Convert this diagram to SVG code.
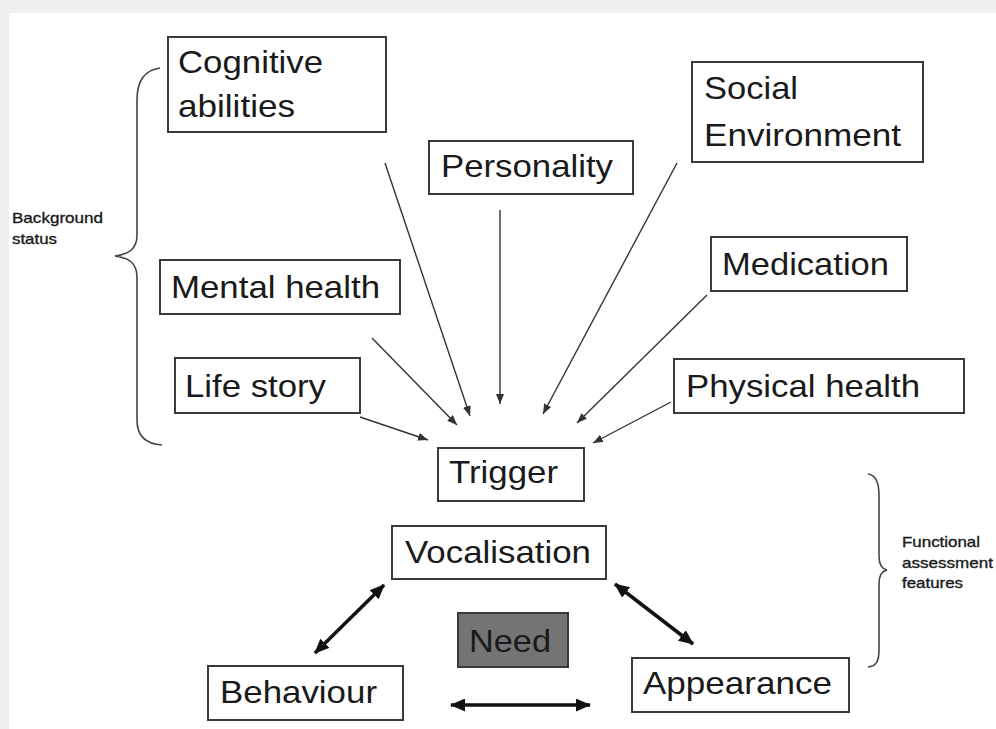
<svg xmlns="http://www.w3.org/2000/svg" width="996" height="729" viewBox="0 0 996 729">
<defs>
<style>
.box{fill:#fff;stroke:#3a3a3a;stroke-width:2}
.need{fill:#747474;stroke:#3a3a3a;stroke-width:2}
.t{font-family:"Liberation Sans",Arial,sans-serif;font-size:32px;fill:#1a1a1a}
.s{font-family:"Liberation Sans",Arial,sans-serif;font-size:15px;fill:#1a1a1a;stroke:#1a1a1a;stroke-width:0.35}
.thin{stroke:#333;stroke-width:1.4;fill:none}
.thick{stroke:#111;stroke-width:3.5;fill:none}
.brace{stroke:#444;stroke-width:1.6;fill:none}
</style>
<marker id="ah" viewBox="0 0 10 8" refX="10" refY="4" markerWidth="10" markerHeight="8" markerUnits="userSpaceOnUse" orient="auto">
<path d="M0,0 L10,4 L0,8 Z" fill="#333"/>
</marker>
<marker id="dh" viewBox="0 0 15 13" refX="14" refY="6.5" markerWidth="15" markerHeight="13" markerUnits="userSpaceOnUse" orient="auto-start-reverse">
<path d="M0,0 L15,6.5 L0,13 Z" fill="#111"/>
</marker>
</defs>
<rect x="0" y="0" width="996" height="729" fill="#f0f0f0"/>
<rect x="9" y="13" width="987" height="716" fill="#fff"/>

<g id="background-brace">
<path class="brace" d="M160,68 C145,70 137,80 137,100 L137,235 C137,249 129,254 115,256 C129,258 137,263 137,277 L137,420 C137,436 146,444 162,445"/>
<text class="s" x="12" y="223" textLength="91" lengthAdjust="spacingAndGlyphs">Background</text>
<text class="s" x="12" y="244" textLength="45" lengthAdjust="spacingAndGlyphs">status</text>
</g>
<g id="functional-brace">
<path class="brace" d="M868,474 C876,475 879,482 879,495 L879,556 C879,565 882,569 887,570 C882,571 879,575 879,584 L879,650 C879,662 876,666 868,667"/>
<text class="s" x="902" y="547" textLength="78" lengthAdjust="spacingAndGlyphs">Functional</text>
<text class="s" x="902" y="568" textLength="91" lengthAdjust="spacingAndGlyphs">assessment</text>
<text class="s" x="902" y="588" textLength="61" lengthAdjust="spacingAndGlyphs">features</text>
</g>

<g id="connectors">
<line class="thin" x1="385" y1="163" x2="470" y2="416" marker-end="url(#ah)"/>
<line class="thin" x1="500" y1="210" x2="500" y2="404" marker-end="url(#ah)"/>
<line class="thin" x1="677" y1="163" x2="543" y2="414" marker-end="url(#ah)"/>
<line class="thin" x1="707" y1="295" x2="577" y2="423" marker-end="url(#ah)"/>
<line class="thin" x1="671" y1="402" x2="593" y2="443" marker-end="url(#ah)"/>
<line class="thin" x1="372" y1="338" x2="457" y2="425" marker-end="url(#ah)"/>
<line class="thin" x1="360" y1="417" x2="428" y2="440" marker-end="url(#ah)"/>
<line class="thick" x1="384" y1="585" x2="315" y2="653" marker-start="url(#dh)" marker-end="url(#dh)"/>
<line class="thick" x1="615" y1="584" x2="693" y2="644" marker-start="url(#dh)" marker-end="url(#dh)"/>
<line class="thick" x1="451" y1="705" x2="590" y2="705" marker-start="url(#dh)" marker-end="url(#dh)"/>
</g>

<g id="cognitive">
<rect class="box" x="168" y="37" width="218" height="95"/>
<text class="t" x="178" y="73" textLength="145" lengthAdjust="spacingAndGlyphs">Cognitive</text>
<text class="t" x="178" y="117" textLength="117" lengthAdjust="spacingAndGlyphs">abilities</text>
</g>
<g id="personality">
<rect class="box" x="429" y="141" width="204" height="53"/>
<text class="t" x="441" y="177" textLength="172" lengthAdjust="spacingAndGlyphs">Personality</text>
</g>
<g id="social">
<rect class="box" x="692" y="62" width="231" height="100"/>
<text class="t" x="704" y="99" textLength="94" lengthAdjust="spacingAndGlyphs">Social</text>
<text class="t" x="704" y="146" textLength="197" lengthAdjust="spacingAndGlyphs">Environment</text>
</g>
<g id="mental">
<rect class="box" x="160" y="260" width="240" height="54"/>
<text class="t" x="171" y="298" textLength="209" lengthAdjust="spacingAndGlyphs">Mental health</text>
</g>
<g id="medication">
<rect class="box" x="711" y="237" width="196" height="54"/>
<text class="t" x="722" y="275" textLength="167" lengthAdjust="spacingAndGlyphs">Medication</text>
</g>
<g id="lifestory">
<rect class="box" x="175" y="358" width="185" height="55"/>
<text class="t" x="185" y="397" textLength="141" lengthAdjust="spacingAndGlyphs">Life story</text>
</g>
<g id="physical">
<rect class="box" x="674" y="359" width="290" height="54"/>
<text class="t" x="686" y="397" textLength="234" lengthAdjust="spacingAndGlyphs">Physical health</text>
</g>
<g id="trigger">
<rect class="box" x="438" y="448" width="146" height="53"/>
<text class="t" x="449" y="483" textLength="109" lengthAdjust="spacingAndGlyphs">Trigger</text>
</g>
<g id="vocalisation">
<rect class="box" x="392" y="526" width="214" height="53"/>
<text class="t" x="405" y="563" textLength="186" lengthAdjust="spacingAndGlyphs">Vocalisation</text>
</g>
<g id="need">
<rect class="need" x="458" y="613" width="110" height="54"/>
<text class="t" x="469" y="652" textLength="82" lengthAdjust="spacingAndGlyphs">Need</text>
</g>
<g id="behaviour">
<rect class="box" x="208" y="666" width="195" height="54"/>
<text class="t" x="220" y="703" textLength="157" lengthAdjust="spacingAndGlyphs">Behaviour</text>
</g>
<g id="appearance">
<rect class="box" x="632" y="658" width="217" height="54"/>
<text class="t" x="643" y="694" textLength="189" lengthAdjust="spacingAndGlyphs">Appearance</text>
</g>
</svg>
